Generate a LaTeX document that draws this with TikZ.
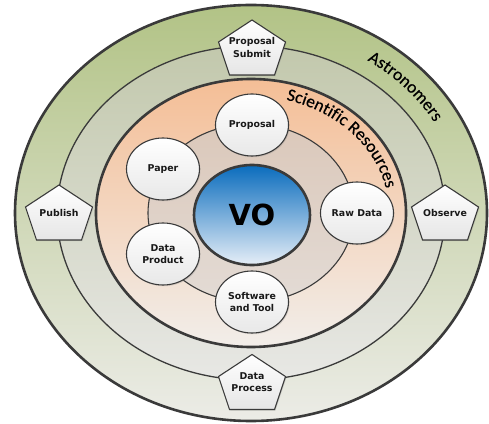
\documentclass[tikz,border=0pt]{standalone}
\usepackage{fontspec}
\setmainfont{DejaVu Sans}
\newfontfamily\arcfont[FakeBold=0.4]{Carlito}
\usetikzlibrary{shapes.geometric,shadows,decorations.text,calc}
\definecolor{edgec}{HTML}{3A3A3A}
\definecolor{greenTop}{HTML}{B2C386}
\definecolor{greenBot}{HTML}{ECECE7}
\definecolor{greyTop}{HTML}{C2C8AC}
\definecolor{greyBot}{HTML}{E8E8E5}
\definecolor{orTop}{HTML}{F4BE96}
\definecolor{orBot}{HTML}{F2EEEA}
\definecolor{inTop}{HTML}{DBC8BA}
\definecolor{inBot}{HTML}{E3DBD5}
\definecolor{voTop}{HTML}{0A6CBD}
\definecolor{voBot}{HTML}{E6EEF7}
\tikzset{
  ring/.style={ellipse, inner sep=0pt, draw=edgec},
  lbl/.style={font=\bfseries\fontsize{9.4}{12.7}\selectfont, align=center, text=black!90, inner sep=0pt},
  item/.style={ellipse, inner sep=0pt, draw=edgec, line width=1.1pt, minimum width=73, minimum height=62,
    top color=white, bottom color=black!9, font=\bfseries\fontsize{9.4}{12.7}\selectfont, align=center, text=black!90,
    drop shadow={opacity=0.25, shadow xshift=1pt, shadow yshift=-1.2pt}},
  pentfill/.style={draw=edgec, line width=1.1pt, top color=white, bottom color=black!10, line join=miter,
    drop shadow={opacity=0.25, shadow xshift=1pt, shadow yshift=-1.2pt}},
  vopent/.pic={\path[pentfill] (0,27.5) -- (33.5,5.5) -- (22.5,-27.5) -- (-22.5,-27.5) -- (-33.5,5.5) -- cycle;},
  arclabel/.style={decorate, decoration={text along path, text align=center, text={|\arcfont\fontsize{17.5}{20}\selectfont|#1}}}
}
\begin{document}
\begin{tikzpicture}[x=1pt,y=1pt]
\useasboundingbox (0,0) rectangle (489,423);
\coordinate (c) at (251,210);
% rings
\node[ring, line width=2.6pt, minimum width=472, minimum height=416, top color=greenTop, bottom color=greenBot] (outer) at (c) {};
\node[ring, line width=1.3pt, minimum width=388, minimum height=334, top color=greyTop, bottom color=greyBot] (middle) at (c) {};
\node[ring, line width=2.6pt, minimum width=310, minimum height=268, top color=orTop, bottom color=orBot] (orange) at (c) {};
\node[ring, line width=1.1pt, minimum width=206, minimum height=178, top color=inTop, bottom color=inBot] (inner) at (c) {};
% curved labels
\path[arclabel={Astronomers}] ($(c)+(77:211 and 183)$) arc[start angle=77, end angle=7, x radius=211, y radius=183];
\path[arclabel={Scientific Resources}] ($(c)+(83:138 and 117)$) arc[start angle=83, end angle=3, x radius=138, y radius=117];
% VO
\node[ring, line width=2.6pt, minimum width=116, minimum height=100, top color=voTop, bottom color=voBot,
  font=\bfseries\fontsize{29}{32}\selectfont, text=black] (vo) at (252,208) {VO};
% resources
\node[item] (proposal) at (252,298) {Proposal};
\node[item] (paper) at (163,254) {Paper};
\node[item] (rawdata) at (357,210) {Raw Data};
\node[item] (dataproduct) at (163,169) {Data\\Product};
\node[item] (software) at (252,121) {Software\\and Tool};
% activities
\pic at (252,375.5) {vopent};
\node[lbl] (submit) at (252,375.5) {Proposal\\Submit};
\pic at (59,210.5) {vopent};
\node[lbl] (publish) at (59,210.5) {Publish};
\pic at (445,210.5) {vopent};
\node[lbl] (observe) at (445,210.5) {Observe};
\pic at (252,41) {vopent};
\node[lbl] (process) at (252,41) {Data\\Process};
\end{tikzpicture}
\end{document}
